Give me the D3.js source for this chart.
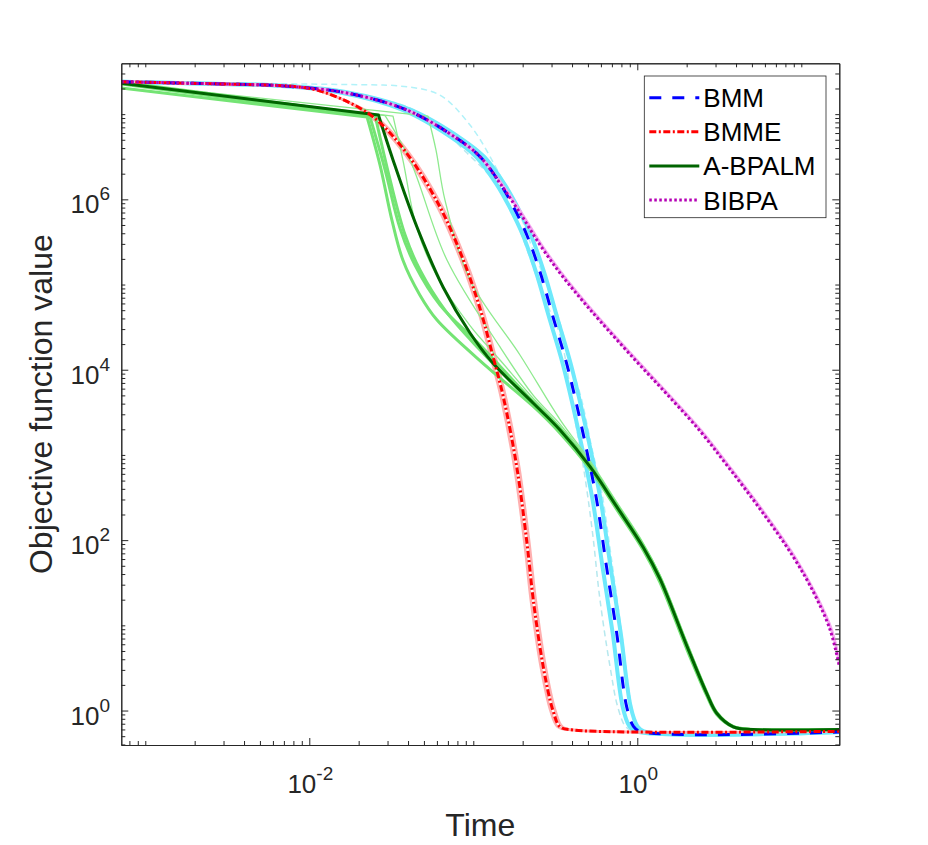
<!DOCTYPE html>
<html>
<head>
<meta charset="utf-8">
<title>Objective function value vs time</title>
<script src="https://d3js.org/d3.v7.min.js"></script>
<style>
  body { margin: 0; background: #fff; }
  svg text { font-family: "Liberation Sans", Arial, Helvetica, sans-serif; fill: #262626; }
</style>
</head>
<body>
<div id="chart"></div>
<script>
// values, each point is [time, objective]
const bmmMean = [[7.14e-4, 2.4e7], [0.0055, 2.2e7], [0.0154, 1.83e7], [0.0393, 1.12e7], [0.0793, 5.2e6], [0.110, 3.16e6], [0.1455, 1.54e6], [0.1754, 8.2e5], [0.212, 3.81e5], [0.2553, 1.40e5], [0.306, 4.19e4], [0.3715, 1.17e4], [0.4268, 3.88e3], [0.491, 1.14e3], [0.565, 296], [0.650, 47.9], [0.749, 8.1], [0.861, 1.11], [0.946, 0.657], [1.038, 0.57], [17.05, 0.56]];
const bmmeMean = [[7.14e-4, 2.4e7], [0.0055, 2.2e7], [0.0101, 2.0e7], [0.0154, 1.53e7], [0.0245, 9.3e6], [0.0393, 3.47e6], [0.0627, 8.1e5], [0.0869, 1.94e5], [0.110, 5.2e4], [0.132, 1.42e4], [0.1524, 4.8e3], [0.184, 728], [0.2125, 92], [0.2323, 19.7], [0.267, 3.27], [0.306, 1.0], [0.338, 0.645], [0.4074, 0.59], [17.05, 0.57]];
const abpalmMean = [[7.14e-4, 2.3e7], [0.0264, 9.75e6], [0.0324, 2.9e6], [0.0454, 4.7e5], [0.0655, 9.3e4], [0.0955, 2.7e4], [0.132, 1.19e4], [0.2323, 4.04e3], [0.338, 1.96e3], [0.515, 728], [0.749, 247], [1.088, 82], [1.375, 35], [2.0, 5.8], [2.65, 1.59], [3.05, 0.93], [3.85, 0.645], [5.08, 0.60], [17.05, 0.60]];
const bibpaMean = [[7.14e-4, 2.4e7], [0.0055, 2.2e7], [0.0154, 1.83e7], [0.0393, 1.12e7], [0.0793, 5.2e6], [0.110, 3.16e6], [0.1455, 1.54e6], [0.1926, 6.9e5], [0.2553, 2.91e5], [0.338, 1.36e5], [0.448, 6.95e4], [0.5925, 3.73e4], [0.946, 1.37e4], [1.51, 5.19e3], [2.41, 1.91e3], [3.51, 760], [5.6, 232], [8.94, 63.4], [12.1, 22.7], [15.0, 8.8], [17.05, 3.33]];

// individual runs (thin, light)
const bmmRunA = [[7.14e-4, 2.4e7], [0.0055, 2.2e7], [0.0146, 1.83e7], [0.0371, 1.12e7], [0.0750, 5.2e6], [0.1040, 3.16e6], [0.1375, 1.54e6], [0.1658, 8.2e5], [0.2004, 3.81e5], [0.2413, 1.40e5], [0.2892, 4.19e4], [0.3511, 1.17e4], [0.4034, 3.88e3], [0.4641, 1.14e3], [0.534, 296], [0.6144, 47.9], [0.708, 8.1], [0.814, 1.11], [0.894, 0.657], [0.981, 0.57], [17.05, 0.56]];
const bmmRunB = [[7.14e-4, 2.4e7], [0.0058, 2.2e7], [0.0163, 1.83e7], [0.0416, 1.12e7], [0.0839, 5.2e6], [0.1164, 3.16e6], [0.1539, 1.54e6], [0.1856, 8.2e5], [0.2243, 3.81e5], [0.2701, 1.40e5], [0.3237, 4.19e4], [0.3930, 1.17e4], [0.4516, 3.88e3], [0.5195, 1.14e3], [0.5978, 296], [0.6877, 47.9], [0.7924, 8.1], [0.911, 1.11], [1.001, 0.657], [1.098, 0.57], [17.05, 0.56]];
const bmmRunSlow = [[7.14e-4, 2.4e7], [0.0281, 2.2e7], [0.0598, 1.75e7], [0.0955, 7.45e6], [0.1455, 1.93e6], [0.1926, 6.55e5], [0.2377, 2.2e5], [0.2737, 1.15e5], [0.328, 4.3e4], [0.398, 1.1e4], [0.457, 4.5e3], [0.526, 1.25e3], [0.605, 380], [0.696, 60], [0.802, 8.3], [0.922, 1.13], [1.013, 0.62], [1.11, 0.57], [17.05, 0.565]];
const bmmRunFast = [[7.14e-4, 2.4e7], [0.0055, 2.2e7], [0.0357, 1.31e7], [0.0568, 8.1e6], [0.0916, 3.49e6], [0.1455, 1.36e6], [0.1846, 5.27e5], [0.2217, 2.05e5], [0.2737, 6.58e4], [0.338, 2.55e4], [0.417, 2.57e3], [0.469, 728], [0.531, 131], [0.5925, 19.8], [0.682, 3.27], [0.763, 1.07], [0.853, 0.64], [0.966, 0.574], [17.05, 0.565]];

const bmmeRunA = [[7.14e-4, 2.4e7], [0.0055, 2.2e7], [0.0101, 2.0e7], [0.0154, 1.53e7], [0.0237, 9.3e6], [0.0379, 3.47e6], [0.0605, 8.1e5], [0.0839, 1.94e5], [0.1062, 5.2e4], [0.1274, 1.42e4], [0.1471, 4.8e3], [0.1776, 728], [0.2051, 92], [0.2242, 19.7], [0.2577, 3.27], [0.2953, 1.0], [0.3262, 0.645], [0.3931, 0.59], [17.05, 0.57]];
const bmmeRunB = [[7.14e-4, 2.4e7], [0.0055, 2.2e7], [0.0101, 2.0e7], [0.0154, 1.53e7], [0.0254, 9.3e6], [0.0407, 3.47e6], [0.0649, 8.1e5], [0.0899, 1.94e5], [0.1139, 5.2e4], [0.1366, 1.42e4], [0.1577, 4.8e3], [0.1904, 728], [0.2199, 92], [0.2404, 19.7], [0.2763, 3.27], [0.3167, 1.0], [0.3498, 0.645], [0.4217, 0.59], [17.05, 0.57]];

const abpalmRunA = [[7.14e-4, 2.02e7], [0.0225, 9.25e6], [0.0270, 2.52e6], [0.0319, 5.7e5], [0.0372, 1.94e5], [0.0473, 7.5e4], [0.0601, 3.83e4], [0.1213, 1.08e4], [0.2323, 3.7e3], [0.338, 1.8e3], [0.515, 680], [0.749, 230], [1.088, 76], [1.375, 32], [2.0, 5.3], [2.65, 1.5], [3.05, 0.9], [3.85, 0.64], [5.08, 0.60], [17.05, 0.60]];
const abpalmRunB = [[7.14e-4, 2.25e7], [0.0234, 9.4e6], [0.0290, 2.21e6], [0.0357, 4.6e5], [0.0441, 1.69e5], [0.0627, 5.74e4], [0.110, 1.95e4], [0.2323, 4.2e3], [0.338, 2.05e3], [0.515, 760], [0.749, 258], [1.088, 86], [1.375, 37], [2.0, 6.1], [2.65, 1.65], [3.05, 0.95], [3.85, 0.65], [5.08, 0.60], [17.05, 0.60]];
const abpalmRunC = [[7.14e-4, 2.38e7], [0.0252, 9.6e6], [0.0311, 1.69e6], [0.0384, 3.81e5], [0.0473, 1.48e5], [0.0672, 5.0e4], [0.110, 1.7e4], [0.2323, 3.9e3], [0.338, 1.9e3], [0.515, 710], [0.749, 240], [1.088, 79], [1.375, 33.5], [2.0, 5.6], [2.65, 1.55], [3.05, 0.92], [3.85, 0.645], [5.08, 0.60], [17.05, 0.60]];
const abpalmRunD = [[7.14e-4, 2.3e7], [0.0290, 9.6e6], [0.0411, 2.9e6], [0.0691, 1.94e5], [0.1455, 1.85e4], [0.2323, 5.0e3], [0.338, 2.3e3], [0.515, 820], [0.749, 275], [1.088, 90], [1.375, 38], [2.0, 6.3], [2.65, 1.7], [3.05, 0.98], [3.85, 0.65], [5.08, 0.60], [17.05, 0.60]];
const abpalmRunE = [[7.14e-4, 2.3e7], [0.0529, 9.5e6], [0.0592, 3.8e6], [0.0672, 9.8e5], [0.0955, 1.13e5], [0.1926, 1.49e4], [0.338, 2.6e3], [0.515, 850], [0.749, 280], [1.088, 92], [1.375, 39], [2.0, 6.4], [2.65, 1.7], [3.05, 0.98], [3.85, 0.65], [5.08, 0.60], [17.05, 0.60]];
const abpalmRunF = [[7.14e-4, 2.3e7], [0.0324, 9.5e6], [0.0372, 2.9e6], [0.0454, 4.5e5], [0.0607, 1.2e5], [0.0955, 3.3e4], [0.1455, 1.3e4], [0.2323, 4.6e3], [0.338, 2.15e3], [0.515, 780], [0.749, 262], [1.088, 86], [1.375, 36], [2.0, 6.0], [2.65, 1.62], [3.05, 0.94], [3.85, 0.65], [5.08, 0.60], [17.05, 0.60]];

const bibpaRun = [[7.14e-4, 2.4e7], [0.0055, 2.2e7], [0.0154, 1.83e7], [0.0393, 1.12e7], [0.0793, 5.2e6], [0.110, 3.16e6], [0.148, 1.54e6], [0.1965, 6.9e5], [0.2604, 2.91e5], [0.345, 1.36e5], [0.457, 6.95e4], [0.604, 3.73e4], [0.965, 1.37e4], [1.54, 5.19e3], [2.46, 1.91e3], [3.58, 760], [5.71, 232], [9.12, 63.4], [12.3, 22.7], [15.3, 8.8], [17.05, 3.7]];

const legendNames = ["BMM", "BMME", "A-BPALM", "BIBPA"];
const xMajorTicks = [1e-2, 1e0];
const yMajorTicks = [1e0, 1e2, 1e4, 1e6];
const xDomain = [7.14e-4, 17.05];
const yDomain = [0.394, 3.95e7];

// layout
const W = 928, H = 845;
const margin = {top: 63.3, right: 88.7, bottom: 100, left: 121.3};
const width = W - margin.left - margin.right,
      height = H - margin.top - margin.bottom;

const svg = d3.select("#chart").append("svg")
    .attr("width", W).attr("height", H);
svg.append("rect").attr("width", W).attr("height", H).attr("fill", "#fff");

const g = svg.append("g")
    .attr("transform", `translate(${margin.left},${margin.top})`);

const x = d3.scaleLog().domain(xDomain).range([0, width]);
const y = d3.scaleLog().domain(yDomain).range([height, 0]);

g.append("clipPath").attr("id", "plotclip")
  .append("rect").attr("width", width).attr("height", height);

// first segment straight, then a smooth curve (keeps the sharp knee)
const lin = d3.line().x(d => x(d[0])).y(d => y(d[1]));
const smooth = d3.line().x(d => x(d[0])).y(d => y(d[1])).curve(d3.curveCatmullRom.alpha(0.5));
function pathFor(data) {
  return lin(data.slice(0, 2)) + smooth(data.slice(1)).replace(/^M/, "L");
}

const lines = g.append("g").attr("clip-path", "url(#plotclip)");
function drawLine(data, color, w, dash) {
  lines.append("path")
    .attr("d", pathFor(data))
    .attr("fill", "none")
    .attr("stroke", color)
    .attr("stroke-width", w)
    .attr("stroke-dasharray", dash || null)
    .attr("stroke-linejoin", "round");
}

// runs
drawLine(bmmRunSlow, "#b2f2f9", 1.5, "6,4");
drawLine(bmmRunFast, "#b6e8ee", 1.5, "6,4");
drawLine(bmmRunA, "#6ee9fb", 4);
drawLine(bmmRunB, "#6ee9fb", 4);
drawLine(bmmeRunA, "#ffb0b0", 2.5);
drawLine(bmmeRunB, "#ffb0b0", 2.5);
[abpalmRunE, abpalmRunD, abpalmRunF].forEach(r => drawLine(r, "#8eea8e", 1.3));
[abpalmRunC, abpalmRunB, abpalmRunA].forEach(r => drawLine(r, "#74e474", 3));
drawLine(bibpaRun, "#f4a6f0", 3);

// means
drawLine(abpalmMean, "#006400", 3);
drawLine(bmmMean, "#0000ff", 3, "12,11");
drawLine(bmmeMean, "#ff0000", 3, "7,2.5,2,2.5");
drawLine(bibpaMean, "#b400b4", 3, "2.5,2.5");

// axes: box with inward ticks on every side
const axisColor = "#262626";
function axisPart(axisFn, scale, values, size, transform) {
  const a = g.append("g").attr("transform", transform).attr("color", axisColor)
    .call(axisFn(scale).tickValues(values).tickSize(-size).tickSizeOuter(0).tickFormat(""));
  a.select(".domain").attr("stroke-width", 1);
}
const xMinor = x.ticks().filter(v => !xMajorTicks.some(m => Math.abs(m - v) / m < 1e-9));
const yMinor = y.ticks().filter(v => !yMajorTicks.some(m => Math.abs(m - v) / m < 1e-9));

axisPart(d3.axisBottom, x, xMinor, 4, `translate(0,${height})`);
axisPart(d3.axisBottom, x, xMajorTicks, 7, `translate(0,${height})`);
axisPart(d3.axisTop, x, xMinor, 4, `translate(0,0)`);
axisPart(d3.axisTop, x, xMajorTicks, 7, `translate(0,0)`);
axisPart(d3.axisLeft, y, yMinor, 4, `translate(0,0)`);
axisPart(d3.axisLeft, y, yMajorTicks, 7, `translate(0,0)`);
axisPart(d3.axisRight, y, yMinor, 4, `translate(${width},0)`);
axisPart(d3.axisRight, y, yMajorTicks, 7, `translate(${width},0)`);

// tick labels as 10^k
function powLabel(sel, v) {
  sel.append("tspan").style("font-size", "26px").text("10");
  sel.append("tspan").style("font-size", "19px").attr("dy", -13)
    .text(String(Math.round(Math.log10(v))));
}
xMajorTicks.forEach(v => {
  const t = g.append("text")
    .attr("x", x(v) + 1).attr("y", height + 48.3)
    .attr("text-anchor", "middle");
  powLabel(t, v);
});
yMajorTicks.forEach(v => {
  const t = g.append("text")
    .attr("x", -11.3).attr("y", y(v) + 14)
    .attr("text-anchor", "end");
  powLabel(t, v);
});

// axis titles
g.append("text")
  .attr("x", width / 2).attr("y", height + 91)
  .attr("text-anchor", "middle")
  .style("font-size", "32px")
  .text("Time");
g.append("text")
  .attr("transform", `translate(${52 - margin.left},${height / 2}) rotate(-90)`)
  .attr("text-anchor", "middle")
  .style("font-size", "32px")
  .text("Objective function value");

// legend
const legendStyles = [
  {color: "#0000ff", dash: "12,11"},
  {color: "#ff0000", dash: "7,2.5,2,2.5"},
  {color: "#006400", dash: null},
  {color: "#b400b4", dash: "2.5,2.5"}
];
const legend = svg.append("g").attr("transform", "translate(644.3,76)");
legend.append("rect")
  .attr("width", 181.7).attr("height", 141.7)
  .attr("fill", "#fff").attr("stroke", axisColor).attr("stroke-width", 0.8);
legendNames.forEach((name, i) => {
  const cy = 21.7 + i * 34.1;
  legend.append("line")
    .attr("x1", 5).attr("x2", 55).attr("y1", cy).attr("y2", cy)
    .attr("stroke", legendStyles[i].color).attr("stroke-width", 3)
    .attr("stroke-dasharray", legendStyles[i].dash);
  legend.append("text")
    .attr("x", 59).attr("y", cy + 9.5)
    .style("font-size", "26px")
    .style("fill", "#000")
    .text(name);
});
</script>
</body>
</html>
